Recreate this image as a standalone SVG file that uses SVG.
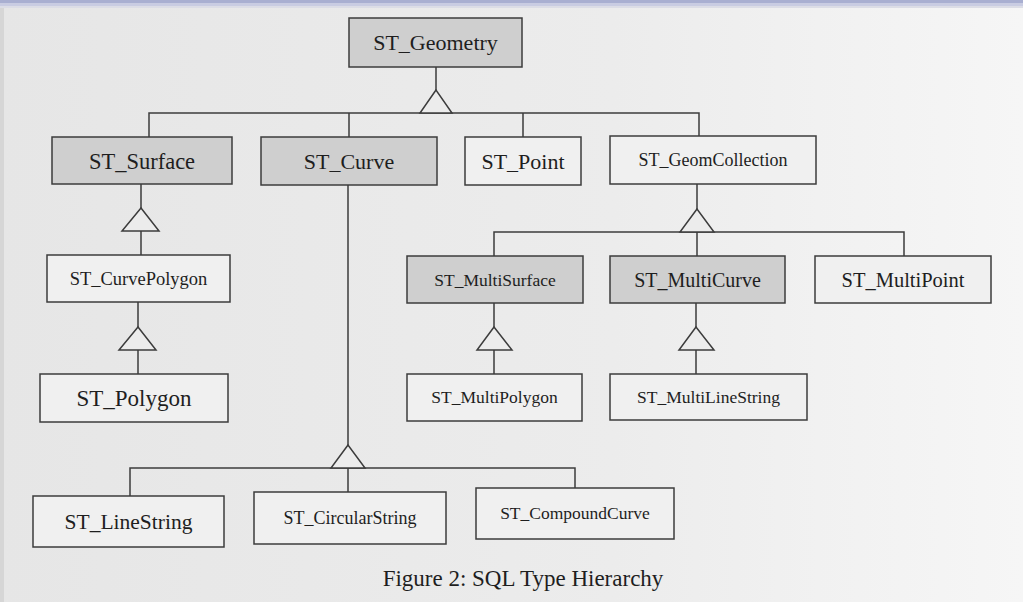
<svg xmlns="http://www.w3.org/2000/svg" width="1023" height="602" viewBox="0 0 1023 602">
<defs>
<linearGradient id="bg" x1="0" y1="0" x2="1" y2="0">
<stop offset="0" stop-color="#e6e6e6"/>
<stop offset="0.6" stop-color="#ececec"/>
<stop offset="1" stop-color="#f6f6f6"/>
</linearGradient>
<style>
.box{stroke:#3c3c3c;stroke-width:1.5}
.g{fill:#cfcfcf}
.w{fill:#f0f0f0}
.t{font-family:"Liberation Serif","Times New Roman",serif;fill:#1e1e1e;text-anchor:middle}
.c{stroke:#3c3c3c;stroke-width:1.5;fill:none}
.tri{stroke:#3c3c3c;stroke-width:1.5;fill:#ececec}
</style>
</defs>
<rect x="0" y="0" width="1023" height="602" fill="url(#bg)"/>
<rect x="0" y="0" width="1023" height="3" fill="#a9afd1"/>
<rect x="0" y="3" width="1023" height="3" fill="#c9cce2"/>
<rect x="0" y="6" width="1023" height="2" fill="#dcdde6"/>
<rect x="0" y="8" width="4" height="594" fill="#d6d6d6"/>

<g id="connectors">
<path class="c" d="M436,67V90 M149,137V113H699V136 M349,113V137 M523,113V137"/>
<polygon class="tri" points="436,90 420,113 452,113"/>
<path class="c" d="M141,184V208 M141,231V255"/>
<polygon class="tri" points="141,208 122,231 159,231"/>
<path class="c" d="M138,302V327 M138,350V374"/>
<polygon class="tri" points="138,327 119,350 156,350"/>
<path class="c" d="M697,184V209 M494,256V232H904V256 M697,232V256"/>
<polygon class="tri" points="697,209 680,232 714,232"/>
<path class="c" d="M494,303V327 M494,350V374"/>
<polygon class="tri" points="494,327 477,350 512,350"/>
<path class="c" d="M696,303V327 M696,350V374"/>
<polygon class="tri" points="696,327 679,350 714,350"/>
<path class="c" d="M348,185V445 M130,496V468H575V488 M348,468V492"/>
<polygon class="tri" points="348,445 331,468 365,468"/>
</g>

<g id="st_geometry"><rect class="box g" x="349" y="18" width="173" height="49"/><text class="t" x="435.5" y="49.5" font-size="22">ST_Geometry</text></g>
<g id="st_surface"><rect class="box g" x="52" y="137" width="180" height="47"/><text class="t" x="142" y="168.5" font-size="22.5">ST_Surface</text></g>
<g id="st_curve"><rect class="box g" x="261" y="137" width="176" height="48"/><text class="t" x="349" y="169" font-size="22">ST_Curve</text></g>
<g id="st_point"><rect class="box w" x="465" y="137" width="116" height="48"/><text class="t" x="523" y="169" font-size="22">ST_Point</text></g>
<g id="st_geomcollection"><rect class="box w" x="610" y="136" width="206" height="48"/><text class="t" x="713" y="166" font-size="18">ST_GeomCollection</text></g>
<g id="st_curvepolygon"><rect class="box w" x="47" y="255" width="183" height="47"/><text class="t" x="138.5" y="284.5" font-size="18.5">ST_CurvePolygon</text></g>
<g id="st_polygon"><rect class="box w" x="40" y="374" width="188" height="48"/><text class="t" x="134" y="405.5" font-size="23">ST_Polygon</text></g>
<g id="st_multisurface"><rect class="box g" x="407" y="256" width="176" height="47"/><text class="t" x="495" y="285.5" font-size="17.5">ST_MultiSurface</text></g>
<g id="st_multicurve"><rect class="box g" x="610" y="256" width="175" height="47"/><text class="t" x="697.5" y="286.5" font-size="20">ST_MultiCurve</text></g>
<g id="st_multipoint"><rect class="box w" x="815" y="256" width="176" height="47"/><text class="t" x="903" y="286.5" font-size="20.5">ST_MultiPoint</text></g>
<g id="st_multipolygon"><rect class="box w" x="407" y="374" width="175" height="47"/><text class="t" x="494.5" y="402.5" font-size="17.5">ST_MultiPolygon</text></g>
<g id="st_multilinestring"><rect class="box w" x="610" y="374" width="197" height="46"/><text class="t" x="708.5" y="402.5" font-size="17.5">ST_MultiLineString</text></g>
<g id="st_linestring"><rect class="box w" x="33" y="496" width="191" height="51"/><text class="t" x="128.5" y="528.5" font-size="21.5">ST_LineString</text></g>
<g id="st_circularstring"><rect class="box w" x="254" y="492" width="192" height="52"/><text class="t" x="350" y="523.5" font-size="18">ST_CircularString</text></g>
<g id="st_compoundcurve"><rect class="box w" x="476" y="488" width="198" height="51"/><text class="t" x="575" y="518.5" font-size="17.5">ST_CompoundCurve</text></g>

<text class="t" x="523" y="586" font-size="23">Figure 2: SQL Type Hierarchy</text>
</svg>
